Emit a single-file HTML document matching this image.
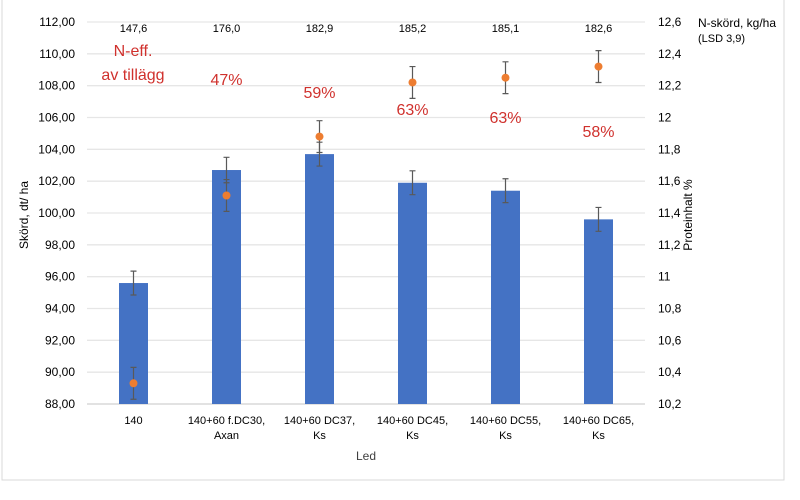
<!DOCTYPE html>
<html><head><meta charset="utf-8"><style>
body{margin:0;background:#fff;}
svg{display:block;font-family:"Liberation Sans",Arial,sans-serif;}
</style></head><body>
<svg id="chart" width="800" height="500">
<rect x="2" y="-2" width="782" height="482" fill="#fff" stroke="#d9d9d9"/>
<g id="grid"></g><g id="bars"></g><g id="pts"></g><g id="labels"></g>
<text x="28" y="215" transform="rotate(-90 28 215)" text-anchor="middle" font-size="12" fill="#000">Skörd, dt/ ha</text>
<text x="692" y="215" transform="rotate(-90 692 215)" text-anchor="middle" font-size="12" fill="#000">Proteinhalt %</text>
<text x="366" y="460" text-anchor="middle" font-size="12" fill="#404040">Led</text>
<text x="698" y="27" font-size="12" fill="#000">N-skörd, kg/ha</text>
<text x="698" y="42" font-size="11" fill="#000">(LSD 3,9)</text>
<text x="133" y="56" text-anchor="middle" font-size="16" fill="#d0312d">N-eff.</text>
<text x="133" y="80" text-anchor="middle" font-size="16" fill="#d0312d">av tillägg</text>
</svg>
<script>
const categories=[["140"],["140+60 f.DC30,","Axan"],["140+60 DC37,","Ks"],["140+60 DC45,","Ks"],["140+60 DC55,","Ks"],["140+60 DC65,","Ks"]];
const yieldVals=[95.6,102.7,103.7,101.9,101.4,99.6];
const yieldErr=[0.75,0.8,0.75,0.75,0.75,0.75];
const proteinVals=[10.33,11.51,11.88,12.22,12.25,12.32];
const proteinErr=[0.1,0.1,0.1,0.1,0.1,0.1];
const nYield=["147,6","176,0","182,9","185,2","185,1","182,6"];
const nEff=["","47%","59%","63%","63%","58%"];
const leftTicks=[88,90,92,94,96,98,100,102,104,106,108,110,112];
const rightTicks=["10,2","10,4","10,6","10,8","11","11,2","11,4","11,6","11,8","12","12,2","12,4","12,6"];
const NS="http://www.w3.org/2000/svg";
const X0=87,X1=645,Y0=404,Y1=22;
const yL=v=>Y0-(v-88)/(112-88)*(Y0-Y1);
const yR=v=>Y0-(v-10.2)/(12.6-10.2)*(Y0-Y1);
const bw=(X1-X0)/categories.length;
const xC=i=>X0+bw*(i+0.5);
function mk(tag,attrs,parent,txt){const e=document.createElementNS(NS,tag);for(const k in attrs)e.setAttribute(k,attrs[k]);if(txt!==undefined)e.textContent=txt;parent.appendChild(e);return e;}
const g=document.getElementById('grid'),b=document.getElementById('bars'),p=document.getElementById('pts'),l=document.getElementById('labels');
leftTicks.forEach((t,i)=>{const y=yL(t);
 const ln=mk('line',{x1:X0,x2:X1,y1:y,y2:y,stroke:i===0?'#d0d0d0':'#e6e6e6','stroke-width':1.3},g);
 
 
 const tx=mk('text',{x:75,y:y+4,'text-anchor':'end','font-size':12,fill:'#000'},g,t.toFixed(2).replace('.',','));
 
 
 const ty=yR(10.2+i*0.2);
 const t2=mk('text',{x:658,y:ty+4,'font-size':12,fill:'#000'},g,rightTicks[i]);
 
 
});
categories.forEach((c,i)=>{const cx=xC(i);
 const r=mk('rect',{x:cx-14.5,y:yL(yieldVals[i]),width:29,height:Y0-yL(yieldVals[i]),fill:'#4472c4'},b);
 
 
 const e1=yL(yieldVals[i]+yieldErr[i]),e2=yL(yieldVals[i]-yieldErr[i]);
 const eb=mk('path',{d:`M${cx},${e1}V${e2}M${cx-3},${e1}H${cx+3}M${cx-3},${e2}H${cx+3}`,stroke:'#595959','stroke-width':1.2,fill:'none'},b);
 
 
 const p1=yR(proteinVals[i]+proteinErr[i]),p2=yR(proteinVals[i]-proteinErr[i]);
 const pe=mk('path',{d:`M${cx},${p1}V${p2}M${cx-3},${p1}H${cx+3}M${cx-3},${p2}H${cx+3}`,stroke:'#595959','stroke-width':1.2,fill:'none'},p);
 
 
 const pt=mk('circle',{cx:cx,cy:yR(proteinVals[i]),r:4,fill:'#ed7d31'},p);
 
 
 c.forEach((s,j)=>{const t=mk('text',{x:cx,y:424+j*15,'text-anchor':'middle','font-size':11,fill:'#000'},l,s);
  
  });
 const nv=mk('text',{x:cx,y:32,'text-anchor':'middle','font-size':11,fill:'#000'},l,nYield[i]);
 
 
 if(nEff[i]){const ne=mk('text',{x:cx,y:[0,85,98,115,123,137][i],'text-anchor':'middle','font-size':16,fill:'#d0312d'},l,nEff[i]);
  
  }
});
</script>
</body></html>
